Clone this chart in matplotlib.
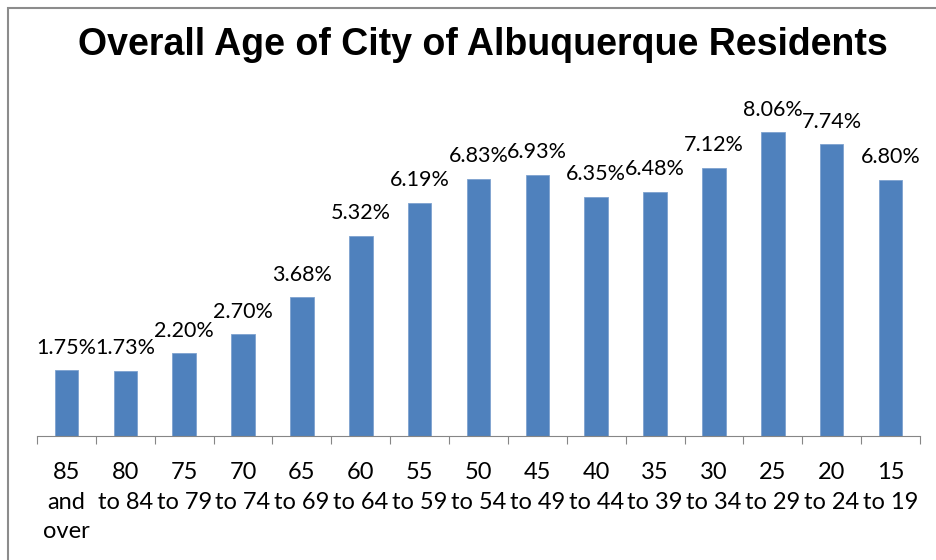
import matplotlib.pyplot as plt
from matplotlib.patches import Rectangle

ages = ['85\nand\nover', '80\nto 84', '75\nto 79', '70\nto 74', '65\nto 69',
        '60\nto 64', '55\nto 59', '50\nto 54', '45\nto 49', '40\nto 44',
        '35\nto 39', '30\nto 34', '25\nto 29', '20\nto 24', '15\nto 19']
share = [1.75, 1.73, 2.20, 2.70, 3.68, 5.32, 6.19, 6.83, 6.93, 6.35,
         6.48, 7.12, 8.06, 7.74, 6.80]

W, H = 937, 560
fig = plt.figure(figsize=(W / 100, H / 100), dpi=100)
ax = fig.add_axes([37 / W, (H - 436) / H, (920 - 37) / W, 339 / H])

x = range(len(share))
ax.bar(x, share, width=0.4, color='#4F81BD', edgecolor='#7EA2CF', linewidth=0.6)
for i, v in enumerate(share):
    ax.annotate(f'{v:.2f}%', (i, v), xytext=(0, 9), textcoords='offset points',
                ha='center', va='bottom', fontsize=15.5, family='Lato')

ax.set_xlim(-0.5, len(share) - 0.5)
ax.set_ylim(0, 9)
ax.set_yticks([])
for s in ['top', 'right', 'left']:
    ax.spines[s].set_visible(False)
ax.spines['bottom'].set_color('#868686')
ax.set_xticks([i - 0.5 for i in range(len(share) + 1)])
ax.set_xticklabels([])
ax.set_xticks(list(x), minor=True)
ax.set_xticklabels(ages, minor=True, fontsize=17, family='Lato', linespacing=1.5)
ax.tick_params(axis='x', which='major', length=6, color='#868686', direction='out')
ax.tick_params(axis='x', which='minor', length=0, pad=19)

fig.text(483 / W, 1 - 45 / H, 'Overall Age of City of Albuquerque Residents',
         ha='center', va='center', fontsize=27, fontweight='bold',
         family='Liberation Sans')

fig.patches.append(Rectangle((8 / W, -0.1), 1.2, 1 - 8 / H + 0.1, transform=fig.transFigure,
                             fill=False, edgecolor='#8C8C8C', linewidth=1.5, clip_on=False))

fig.savefig('out.png', dpi=100)
